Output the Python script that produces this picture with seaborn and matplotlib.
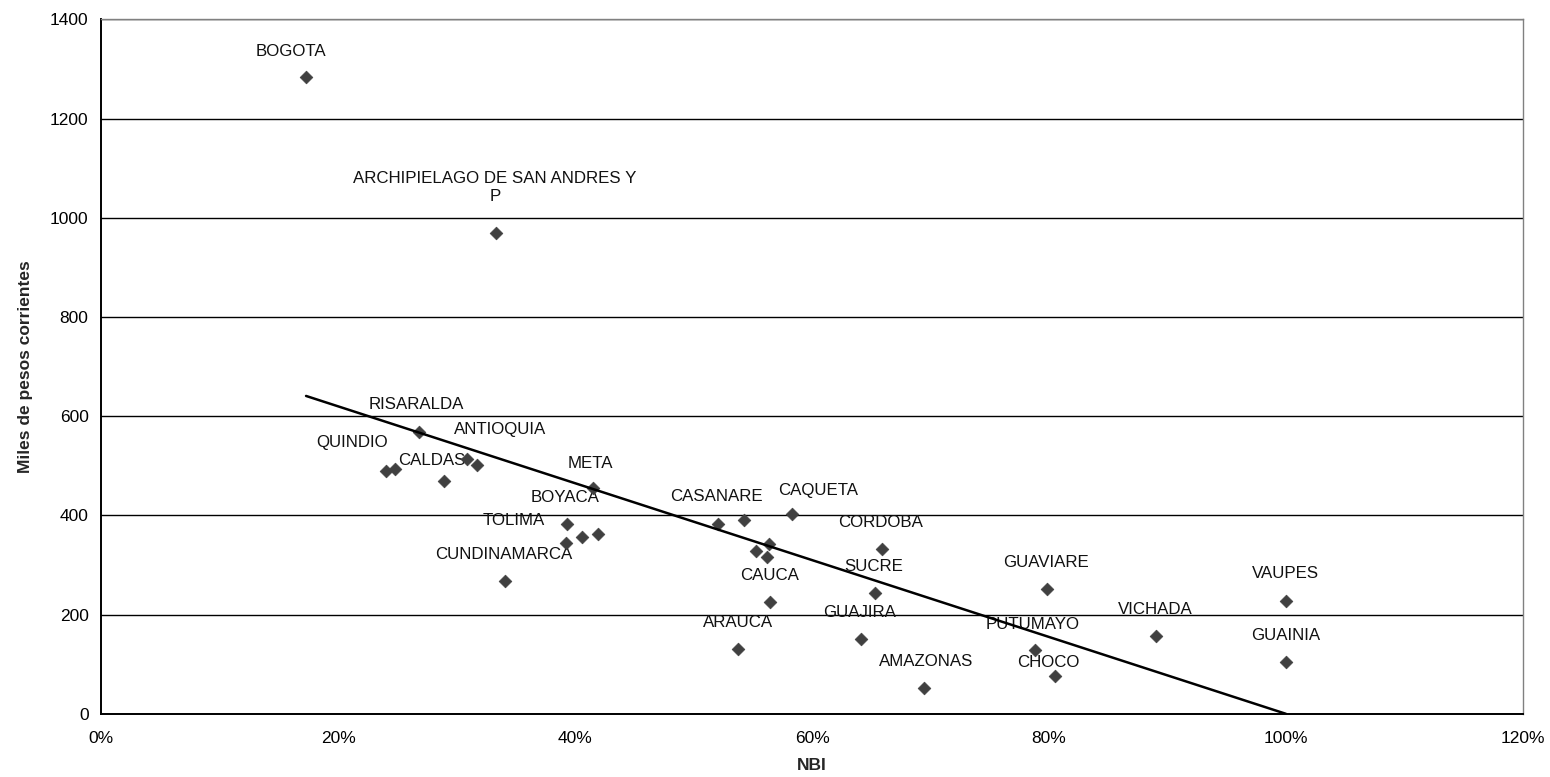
import numpy as np
import pandas as pd
import matplotlib
matplotlib.use("Agg")
import matplotlib.pyplot as plt
from matplotlib.ticker import FuncFormatter
import seaborn as sns

# ── Data ────────────────────────────────────────────────────────────────────
# NBI (fraction) and income (miles de pesos corrientes) per department
nbi = [0.173, 0.333, 0.2686, 0.2405, 0.2484, 0.2894, 0.3086, 0.3170,
       0.4149, 0.3930, 0.4056, 0.4191, 0.3921, 0.3409, 0.5209, 0.5423,
       0.5828, 0.5637, 0.5524, 0.5617, 0.6593, 0.6532, 0.5646, 0.5373,
       0.6411, 0.6948, 0.7986, 1.000, 0.890, 1.000, 0.7885, 0.8048]
ingreso = [1283, 970, 568, 490, 493, 470, 514, 502,
           455, 383, 357, 363, 344, 267, 383, 391,
           404, 343, 329, 317, 333, 243, 225, 130,
           151, 52, 251, 228, 157, 105, 128, 77]

# data labels (names) and where they sit on the chart
label_names = ['BOGOTA', 'ARCHIPIELAGO DE SAN ANDRES Y\nP', 'RISARALDA',
               'QUINDIO', 'CALDAS', 'ANTIOQUIA', 'META', 'BOYACA', 'TOLIMA',
               'CUNDINAMARCA', 'CASANARE', 'CAQUETA', 'CORDOBA', 'SUCRE',
               'CAUCA', 'GUAJIRA', 'ARAUCA', 'AMAZONAS', 'GUAVIARE', 'VAUPES',
               'VICHADA', 'PUTUMAYO', 'GUAINIA', 'CHOCO']
label_x = [0.1602, 0.3325, 0.2657, 0.2116, 0.2787, 0.3367, 0.4127, 0.3916,
           0.3479, 0.3398, 0.5197, 0.6048, 0.6576, 0.6517, 0.5639, 0.6403,
           0.5374, 0.6962, 0.7973, 0.9998, 0.8895, 0.7865, 0.9994, 0.7994]
label_y = [1335, 1061, 623, 548, 510, 574, 505, 437,
           390, 322, 438, 451, 386, 297, 280, 204,
           185, 105, 306, 284, 210, 181, 159, 104]

df = pd.DataFrame({'NBI': nbi, 'Ingreso': ingreso})

# ── Plot ─────────────────────────────────────────────────────────────────────
sns.set_style('white')
plt.rcParams['font.family'] = ['Liberation Sans', 'DejaVu Sans']

fig = plt.figure(figsize=(15.5, 7.77), dpi=100)
ax = fig.add_axes([0.0652, 0.0811, 0.9174, 0.8941])

ax.yaxis.grid(True, color='black', linewidth=1.0)
ax.set_axisbelow(True)

sns.scatterplot(data=df, x='NBI', y='Ingreso', ax=ax, marker='D', s=42,
                color='#404040', edgecolor='#404040', linewidth=0.5, zorder=3)

# linear trend line over the data range
slope, intercept = np.polyfit(df['NBI'], df['Ingreso'], 1)
xs = np.array([df['NBI'].min(), df['NBI'].max()])
ax.plot(xs, slope * xs + intercept, color='black', linewidth=1.8, zorder=4)

for name, lx, ly in zip(label_names, label_x, label_y):
    ax.text(lx, ly, name, ha='center', va='center', fontsize=12.2,
            color='#111111', linespacing=1.2, zorder=2)

ax.set_xlim(0, 1.2)
ax.set_ylim(0, 1400)
ax.set_xticks(np.arange(0, 1.21, 0.2))
ax.set_yticks(np.arange(0, 1401, 200))
ax.xaxis.set_major_formatter(FuncFormatter(lambda v, p: f'{v*100:.0f}%'))
ax.tick_params(axis='both', labelsize=12.5, colors='black', direction='out',
               length=4, width=1, pad=5)
ax.tick_params(axis='x', pad=8)

ax.set_xlabel('NBI', fontsize=12.5, fontweight='bold', labelpad=9)
ax.set_ylabel('Miles de pesos corrientes', fontsize=12.5, fontweight='bold',
              labelpad=12)

for side in ['left', 'bottom']:
    ax.spines[side].set_color('black')
    ax.spines[side].set_linewidth(1.4)
for side in ['top', 'right']:
    ax.spines[side].set_color('#808080')
    ax.spines[side].set_linewidth(1.0)

fig.savefig('out.png', dpi=100, facecolor='white')
